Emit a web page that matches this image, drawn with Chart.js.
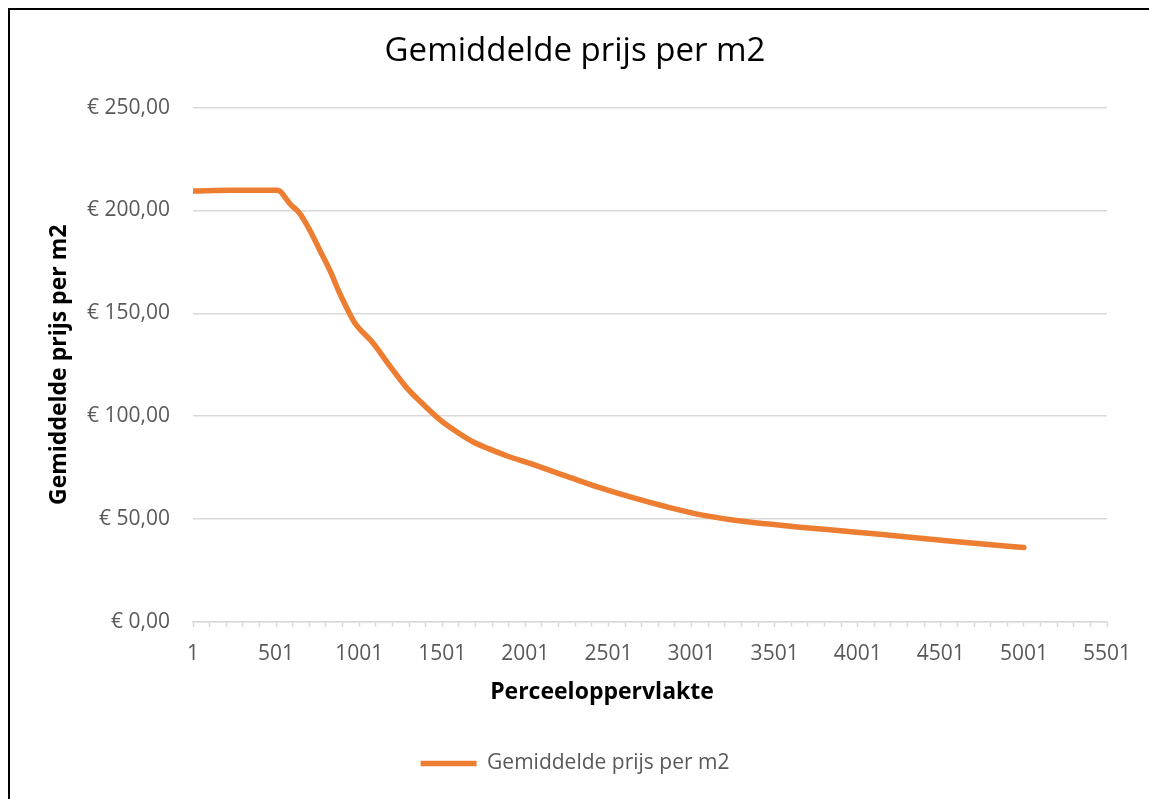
<!DOCTYPE html>
<html>
<head>
<meta charset="utf-8">
<script src="https://cdn.jsdelivr.net/npm/chart.js@4"></script>
<style>
  html, body { margin: 0; padding: 0; background: #fff; overflow: hidden; }
  #wrap { position: absolute; left: 0; top: 0; width: 1149px; height: 799px; }
  #frame { position: absolute; left: 8px; top: 8px; width: 1200px; height: 900px;
           border-left: 2.5px solid #000; border-top: 2.5px solid #000; pointer-events: none; }
</style>
</head>
<body>
<div id="wrap"><canvas id="myLineChart"></canvas></div>
<div id="frame"></div>
<script>
// chart data
const chartTitle = 'Gemiddelde prijs per m2';
const seriesName = 'Gemiddelde prijs per m2';
const xTitle = 'Perceeloppervlakte';
const yTitle = 'Gemiddelde prijs per m2';

const plotSizes = [1, 250, 500, 523, 553, 584, 644, 704, 764, 824, 884, 930, 975,
    1083, 1185, 1286, 1386, 1486, 1585, 1685, 1787, 1887, 2046, 2248, 2449, 2648,
    2850, 3051, 3250, 3452, 3652, 3900, 4134, 4535, 4770, 5001];
const avgPrice = [209.5, 209.8, 209.8, 209.5, 206.6, 203.3, 198.5, 190.4, 180.7, 171.0, 159.7, 152.0, 145.3,
    135.7, 124.5, 113.9, 105.8, 98.4, 92.6, 87.6, 84.0, 80.8, 76.6, 70.9, 65.3, 60.4,
    56.0, 52.2, 49.6, 47.7, 46.1, 44.3, 42.6, 39.5, 37.8, 36.2];

const xTickLabels = ['1', '501', '1001', '1501', '2001', '2501', '3001', '3501', '4001', '4501', '5001', '5501'];
const xMinorStep = 100;
const yTickValues = [0, 50, 100, 150, 200, 250];

const orange = '#ED7D31';
const gridGrey = '#d9d9d9';
const textGrey = '#595959';
const fontName = '"Open Sans", "Liberation Sans", sans-serif';

function euro(v) {
    return '€ ' + v.toFixed(2).replace('.', ',');
}

// x axis title sits a bit left of the plot centre in the original
const xTitlePlugin = {
    id: 'xTitlePlugin',
    afterDraw(chart) {
        const { ctx, chartArea } = chart;
        ctx.save();
        ctx.font = 'bold 23px ' + fontName;
        ctx.fillStyle = '#000';
        ctx.textAlign = 'center';
        ctx.textBaseline = 'middle';
        ctx.fillText(xTitle, (chartArea.left + chartArea.right) / 2 - 48, chartArea.bottom + 70);
        ctx.restore();
    }
};

function renderChart() {
    const points = plotSizes.map((s, i) => ({ x: s, y: avgPrice[i] }));

    const data = {
        datasets: [{
            label: seriesName,
            data: points,
            borderColor: orange,
            backgroundColor: orange,
            borderWidth: 5.5,
            borderCapStyle: 'round',
            borderJoinStyle: 'round',
            pointRadius: 0,
            cubicInterpolationMode: 'monotone',
            fill: false
        }]
    };

    const xMin = Number(xTickLabels[0]);
    const xMax = Number(xTickLabels[xTickLabels.length - 1]);

    const config = {
        type: 'line',
        data: data,
        options: {
            responsive: true,
            maintainAspectRatio: false,
            animation: false,
            layout: { padding: { top: 10, left: 43, right: 42, bottom: 15 } },
            plugins: {
                title: {
                    display: true,
                    text: chartTitle,
                    color: '#000',
                    font: { family: fontName, size: 33, weight: 'normal' },
                    padding: { top: 22, bottom: 36 }
                },
                legend: {
                    position: 'bottom',
                    labels: {
                        usePointStyle: true,
                        pointStyle: 'line',
                        pointStyleWidth: 56,
                        boxHeight: 6,
                        color: textGrey,
                        font: { family: fontName, size: 21 },
                        padding: 10
                    }
                },
                tooltip: { enabled: false }
            },
            scales: {
                x: {
                    type: 'linear',
                    min: xMin,
                    max: xMax,
                    afterBuildTicks: axis => {
                        const t = [];
                        for (let v = xMin; v <= xMax; v += xMinorStep) t.push({ value: v });
                        axis.ticks = t;
                    },
                    afterFit: axis => { axis.height = 121; },
                    grid: {
                        display: true,
                        drawOnChartArea: false,
                        drawTicks: true,
                        tickLength: 5,
                        tickColor: gridGrey,
                        tickWidth: 1.5
                    },
                    border: { display: true, color: gridGrey, width: 1.5 },
                    ticks: {
                        autoSkip: false,
                        maxRotation: 0,
                        padding: 14,
                        color: textGrey,
                        font: { family: fontName, size: 21 },
                        callback: v => xTickLabels.includes(String(v)) ? String(v) : ''
                    },
                    title: { display: false }
                },
                y: {
                    min: yTickValues[0],
                    max: yTickValues[yTickValues.length - 1],
                    afterBuildTicks: axis => { axis.ticks = yTickValues.map(v => ({ value: v })); },
                    afterFit: axis => { axis.width = 150; },
                    grid: { color: gridGrey, lineWidth: 1.5, drawTicks: false },
                    border: { display: false },
                    ticks: {
                        padding: 23,
                        color: textGrey,
                        font: { family: fontName, size: 21 },
                        callback: v => euro(v)
                    },
                    title: {
                        display: true,
                        text: yTitle,
                        color: '#000',
                        font: { family: fontName, size: 23, weight: 'bold' },
                        padding: { top: 3, bottom: 3 }
                    }
                }
            }
        },
        plugins: [xTitlePlugin]
    };

    new Chart(document.getElementById('myLineChart'), config);
}

renderChart();
</script>
</body>
</html>
